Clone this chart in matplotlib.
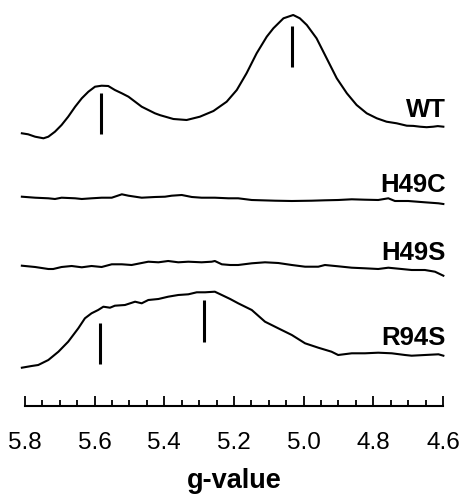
# EPR spectra of WT and mutants, g-value axis (low field on the left)
import matplotlib
matplotlib.use("Agg")
from matplotlib import pyplot as plt
from matplotlib.ticker import MultipleLocator

plt.rcParams["font.family"] = ["Liberation Sans", "DejaVu Sans"]

# sample names and the vertical offset used to stack them
names = ["WT", "H49C", "H49S", "R94S"]
offsets = [279.3, 208, 140, 52]

# traces: g-value and intensity (a.u.) above each baseline
wt_g = [5.809, 5.791, 5.771, 5.747, 5.733, 5.714, 5.695, 5.676, 5.656, 5.637,
        5.618, 5.599, 5.580, 5.561, 5.542, 5.522, 5.503, 5.484, 5.465, 5.446,
        5.427, 5.412, 5.374, 5.336, 5.298, 5.259, 5.221, 5.192, 5.164, 5.135,
        5.106, 5.087, 5.058, 5.030, 5.011, 4.991, 4.963, 4.934, 4.905, 4.876,
        4.848, 4.819, 4.790, 4.762, 4.733, 4.704, 4.685, 4.666, 4.647, 4.628,
        4.615, 4.599]
wt_i = [-6.6, -7.6, -10.0, -11.6, -10.0, -5.0, 1.7, 10.0, 20.0, 28.4,
        35.0, 40.0, 41.0, 40.7, 36.7, 33.4, 30.0, 25.0, 20.0, 16.7,
        13.4, 11.5, 7.7, 6.7, 10.0, 15.7, 25.0, 36.7, 53.4, 73.4,
        90.0, 98.4, 108.4, 111.7, 108.4, 101.7, 88.4, 68.4, 48.4, 33.4,
        21.7, 13.4, 8.4, 5.0, 3.4, 1.0, 0.8, 0.0, -0.5, 0.0,
        0.6, 0.0]

h49c_g = [5.809, 5.771, 5.733, 5.714, 5.695, 5.656, 5.637, 5.609, 5.580, 5.551,
          5.522, 5.503, 5.465, 5.427, 5.398, 5.379, 5.350, 5.321, 5.293, 5.255,
          5.216, 5.188, 5.149, 5.082, 5.034, 4.977, 4.939, 4.901, 4.862, 4.824,
          4.786, 4.757, 4.738, 4.700, 4.652, 4.613, 4.599]
h49c_i = [1.3, 0.3, -0.3, -1.0, 0.3, -0.3, -1.0, -0.3, 0.3, 0.3,
          3.7, 2.3, 0.3, 1.0, 1.3, 2.3, 3.0, 1.0, 0.3, 0.3,
          -0.3, -0.3, -2.0, -2.7, -3.0, -2.7, -2.3, -2.0, -1.3, -1.7,
          -2.0, -0.3, -3.0, -3.0, -4.3, -5.3, -6.0]

h49s_g = [5.809, 5.771, 5.733, 5.719, 5.695, 5.666, 5.637, 5.609, 5.580, 5.551,
          5.522, 5.494, 5.465, 5.446, 5.417, 5.389, 5.360, 5.331, 5.293, 5.264,
          5.255, 5.235, 5.211, 5.188, 5.149, 5.111, 5.073, 5.034, 4.996, 4.958,
          4.939, 4.901, 4.862, 4.824, 4.786, 4.757, 4.719, 4.690, 4.652, 4.623,
          4.599]
h49s_i = [0.3, -1.0, -3.0, -3.0, -1.0, 0.0, -1.3, 0.0, -1.0, 1.7,
          1.7, 1.0, 3.0, 4.3, 3.7, 5.0, 3.7, 4.3, 3.7, 4.3,
          5.0, 1.7, 1.0, 1.0, 2.7, 3.7, 3.0, 1.0, -0.7, -0.7,
          1.0, -0.3, -1.7, -2.3, -3.0, -1.7, -3.0, -4.0, -4.0, -5.7,
          -9.7]

r94s_g = [5.809, 5.781, 5.762, 5.733, 5.704, 5.676, 5.647, 5.628, 5.609, 5.590,
          5.575, 5.556, 5.542, 5.513, 5.484, 5.465, 5.446, 5.417, 5.389, 5.360,
          5.331, 5.307, 5.283, 5.255, 5.235, 5.211, 5.188, 5.149, 5.111, 5.073,
          5.034, 4.996, 4.958, 4.920, 4.901, 4.862, 4.824, 4.786, 4.747, 4.709,
          4.690, 4.652, 4.613, 4.599]
r94s_i = [-13.7, -12.0, -11.0, -6.0, 2.3, 12.3, 25.7, 35.7, 40.7, 44.0,
          47.3, 46.3, 48.3, 49.0, 52.3, 50.7, 54.0, 55.0, 57.3, 59.0,
          59.7, 61.7, 61.7, 62.3, 59.0, 55.0, 50.7, 44.0, 32.3, 25.7,
          19.0, 10.7, 6.3, 2.3, -1.0, 0.7, 0.7, 1.3, 0.7, -1.0,
          -1.7, -1.0, -0.3, -1.7]

# g-value markers: (trace index, g, low, high) in the trace's own intensity units
markers = [(0, 5.582, -7.6, 33.4), (0, 5.034, 60.0, 101.0),
           (3, 5.585, -10.3, 30.7), (3, 5.285, 12.3, 54.0)]

# label heights relative to baseline
label_dy = [16.7, 13.5, 13.5, 16.5]

traces = [(wt_g, wt_i), (h49c_g, h49c_i), (h49s_g, h49s_i), (r94s_g, r94s_i)]

fig = plt.figure(figsize=(4.61, 4.94), dpi=100)
ax = fig.add_axes([25 / 461, 88 / 494, 418 / 461, 406 / 494])

for (g, inten), off in zip(traces, offsets):
    ax.plot(g, [v + off for v in inten], color="black", lw=1.5, clip_on=False)

for idx, g, lo, hi in markers:
    ax.vlines(g, lo + offsets[idx], hi + offsets[idx], color="black", lw=2.2)

for name, off, dy in zip(names, offsets, label_dy):
    ax.text(4.592, off + dy, name, ha="right", va="center",
            fontsize=18.5, fontweight="bold")

ax.set_xlim(5.8, 4.6)
ax.set_ylim(0, 406)
for side in ["left", "top", "right"]:
    ax.spines[side].set_visible(False)
ax.spines["bottom"].set_linewidth(1.5)
ax.set_yticks([])
ax.xaxis.set_major_locator(MultipleLocator(0.2))
ax.xaxis.set_minor_locator(MultipleLocator(0.05))
ax.tick_params(axis="x", which="major", direction="in", length=7, width=1.3,
               pad=19, labelsize=17.5)
ax.tick_params(axis="x", which="minor", direction="in", length=4, width=1.3)
ax.set_xticks([5.8, 5.6, 5.4, 5.2, 5.0, 4.8, 4.6])
ax.set_xticklabels(["5.8", "5.6", "5.4", "5.2", "5.0", "4.8", "4.6"])
ax.set_xlabel("g-value", fontsize=19.5, fontweight="bold", labelpad=10)
ax.patch.set_visible(False)

fig.savefig("out.png", dpi=100)
